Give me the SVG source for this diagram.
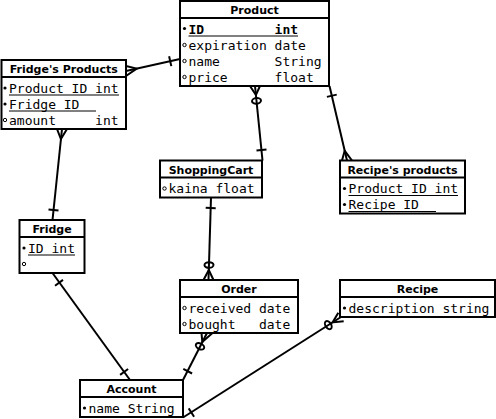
<svg xmlns="http://www.w3.org/2000/svg" width="496" height="419" viewBox="0 0 496 419">
<style>
.box{fill:#fff;stroke:#000;stroke-width:2}
.sep{stroke:#000;stroke-width:2}
.title{font-family:"DejaVu Sans",sans-serif;font-weight:bold;font-size:11px;text-anchor:middle;fill:#000}
.row{font-family:"DejaVu Sans Mono",monospace;font-size:13px;white-space:pre;fill:#000}
.b{font-weight:bold}
.ul{stroke:#000;stroke-width:1}
.key{fill:#000}
.opt{fill:none;stroke:#000;stroke-width:1}
.conn line,.conn polyline,.conn ellipse{fill:none;stroke:#000;stroke-width:2}
</style>
<rect x="0" y="0" width="496" height="419" fill="#fff"/>
<g id="connectors" class="conn">
<line x1="126" y1="71" x2="180" y2="59"/>
<polyline points="126,66 136.7,68.6 126,76"/>
<line x1="171.3" y1="66.1" x2="169.1" y2="56.3"/>

<line x1="255" y1="86" x2="262.5" y2="160.5"/>
<polyline points="250,86 255.9,95 260,86"/>
<ellipse cx="256.5" cy="100.9" rx="4.5" ry="2.8" transform="rotate(-5.8 256.5 100.9)"/>
<line x1="256.5" y1="150.5" x2="266.5" y2="149.5"/>

<line x1="329.5" y1="86" x2="347" y2="160.5"/>
<line x1="326.9" y1="96.9" x2="336.7" y2="94.6"/>
<polyline points="342,160.5 344.7,150.8 352,160.5"/>

<line x1="62" y1="129" x2="52.5" y2="220"/>
<polyline points="57,129 60.9,139 67,129"/>
<line x1="48.5" y1="209.6" x2="58.5" y2="210.6"/>

<line x1="211" y1="197.5" x2="208.5" y2="280"/>
<line x1="205.7" y1="207.8" x2="215.7" y2="208.2"/>
<ellipse cx="209" cy="265" rx="4.5" ry="2.8" transform="rotate(-1.7 209 265)"/>
<polyline points="203.5,280 208.8,270 213.5,280"/>

<line x1="207" y1="333" x2="183" y2="380"/>
<polyline points="201.5,333 202.3,341.9 212.5,333"/>
<ellipse cx="200" cy="346.3" rx="4.5" ry="2.8" transform="rotate(27.8 200 346.3)"/>
<line x1="183.3" y1="368.9" x2="192.1" y2="373.5"/>

<line x1="52.5" y1="273" x2="130" y2="380"/>
<line x1="55" y1="285.8" x2="63" y2="279.9"/>
<line x1="120.1" y1="374.9" x2="128.1" y2="369"/>

<line x1="341" y1="317" x2="183" y2="417.5"/>
<polyline points="338.3,312.8 332.6,322.4 343.7,321.2"/>
<ellipse cx="328.3" cy="325.1" rx="4.5" ry="2.8" transform="rotate(57.5 328.3 325.1)"/>
<line x1="188.7" y1="408.4" x2="194.1" y2="416.8"/>
</g>

<g id="product">
<rect class="box" x="180" y="1" width="149" height="85"/>
<line class="sep" x1="180" y1="18" x2="329" y2="18"/>
<text class="title" x="254.5" y="14">Product</text>
<circle class="key" cx="184.5" cy="28.5" r="1.6"/>
<text class="row b" x="188.5" y="33.5">ID</text>
<text class="row b" x="274.6" y="33.5">int</text>
<line class="ul" x1="188.5" y1="36" x2="298" y2="36"/>
<circle class="opt" cx="184.5" cy="45" r="1.7"/>
<text class="row" x="188.5" y="49.5">expiration</text>
<text class="row" x="274.6" y="49.5">date</text>
<circle class="opt" cx="184.5" cy="61" r="1.7"/>
<text class="row" x="188.5" y="65.5">name</text>
<text class="row" x="274.6" y="65.5">String</text>
<circle class="opt" cx="184.5" cy="77" r="1.7"/>
<text class="row" x="188.5" y="81.5">price</text>
<text class="row" x="274.6" y="81.5">float</text>
</g>

<g id="fridges-products">
<rect class="box" x="1.5" y="60" width="124.5" height="69"/>
<line class="sep" x1="1.5" y1="77" x2="126" y2="77"/>
<text class="title" x="63.75" y="73.3">Fridge's Products</text>
<circle class="key" cx="5" cy="88" r="1.6"/>
<text class="row" x="9" y="92.5" xml:space="preserve">Product ID int</text>
<line class="ul" x1="9" y1="95" x2="119" y2="95"/>
<circle class="key" cx="5" cy="104" r="1.6"/>
<text class="row" x="9" y="108.5">Fridge ID</text>
<line class="ul" x1="9" y1="111" x2="96" y2="111"/>
<circle class="opt" cx="5" cy="120" r="1.7"/>
<text class="row" x="9" y="124.5" xml:space="preserve">amount     int</text>
</g>

<g id="shoppingcart">
<rect class="box" x="160" y="160.5" width="102" height="37"/>
<line class="sep" x1="160" y1="177.5" x2="262" y2="177.5"/>
<text class="title" x="211" y="174">ShoppingCart</text>
<circle class="opt" cx="164.5" cy="188.5" r="1.7"/>
<text class="row" x="168.5" y="193" xml:space="preserve">kaina float</text>
</g>

<g id="recipes-products">
<rect class="box" x="340" y="160.5" width="125" height="53"/>
<line class="sep" x1="340" y1="177.5" x2="465" y2="177.5"/>
<text class="title" x="402.5" y="174">Recipe's products</text>
<circle class="key" cx="344.5" cy="188.5" r="1.6"/>
<text class="row" x="348.5" y="193" xml:space="preserve">Product ID int</text>
<line class="ul" x1="348.5" y1="195.5" x2="458" y2="195.5"/>
<circle class="key" cx="344.5" cy="204.5" r="1.6"/>
<text class="row" x="348.5" y="209">Recipe ID</text>
<line class="ul" x1="348.5" y1="211.5" x2="436" y2="211.5"/>
</g>

<g id="fridge">
<rect class="box" x="19.5" y="220" width="65" height="53"/>
<line class="sep" x1="19.5" y1="237" x2="84.5" y2="237"/>
<text class="title" x="52" y="233.3">Fridge</text>
<circle class="key" cx="24" cy="248" r="1.6"/>
<text class="row" x="28" y="252.5" xml:space="preserve">ID int</text>
<line class="ul" x1="28" y1="255" x2="75" y2="255"/>
<circle class="opt" cx="24" cy="264" r="1.7"/>
</g>

<g id="order">
<rect class="box" x="180" y="280" width="118" height="53"/>
<line class="sep" x1="180" y1="297" x2="298" y2="297"/>
<text class="title" x="239" y="293.3">Order</text>
<circle class="opt" cx="184.5" cy="308" r="1.7"/>
<text class="row" x="188.5" y="312.5" xml:space="preserve">received date</text>
<circle class="opt" cx="184.5" cy="324" r="1.7"/>
<text class="row" x="188.5" y="328.5" xml:space="preserve">bought   date</text>
</g>

<g id="recipe">
<rect class="box" x="340" y="280" width="155" height="37"/>
<line class="sep" x1="340" y1="297" x2="495" y2="297"/>
<text class="title" x="417.5" y="293.3">Recipe</text>
<circle class="key" cx="344.5" cy="308" r="1.6"/>
<text class="row" x="348.5" y="312.5" xml:space="preserve">description string</text>
</g>

<g id="account">
<rect class="box" x="80" y="380" width="103" height="37"/>
<line class="sep" x1="80" y1="397" x2="183" y2="397"/>
<text class="title" x="131.5" y="393.3">Account</text>
<circle class="key" cx="84.5" cy="408" r="1.6"/>
<text class="row" x="88.5" y="412.5" xml:space="preserve">name String</text>
</g>
</svg>
